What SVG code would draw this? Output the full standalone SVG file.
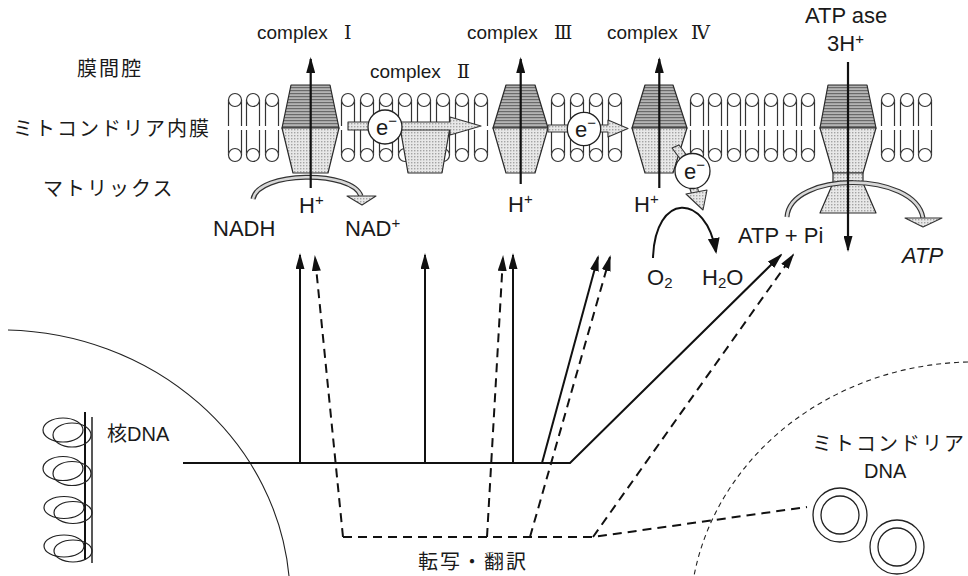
<svg xmlns="http://www.w3.org/2000/svg" width="968" height="576" viewBox="0 0 968 576">
<style>
text { font-family: "Liberation Sans", "Noto Sans CJK JP", sans-serif; fill: #1a1a1a; }
.jp { font-size: 20px; letter-spacing: 2px; }
.lbl { font-size: 19px; }
.num { font-family: "DejaVu Serif", "Noto Sans CJK JP", serif; font-size: 19px; }
.big { font-size: 22px; }
.lip line { stroke: #333; stroke-width: 1.2; }
.lip circle { fill: #fff; stroke: #333; stroke-width: 1.2; }
.top { fill: url(#pDark); stroke: #2a2a2a; stroke-width: 1.2; stroke-linejoin: round; }
.bot { fill: url(#pLight); stroke: #2a2a2a; stroke-width: 1.2; stroke-linejoin: round; }
.axis { stroke: #111; stroke-width: 2.2; fill: none; }
.sol { stroke: #111; stroke-width: 2; fill: none; }
.dash { stroke: #111; stroke-width: 2; fill: none; stroke-dasharray: 9 6; }
.thin { stroke: #222; stroke-width: 1.1; fill: none; }
.thindash { stroke: #222; stroke-width: 1.1; fill: none; stroke-dasharray: 5 4; }
.grey { fill: url(#pLight); stroke: #333; stroke-width: 1.1; stroke-linejoin: round; }
.bandOut { stroke: #333; stroke-width: 5; fill: none; }
.bandIn { stroke: #d8d8d8; stroke-width: 2.6; fill: none; }
.ecirc { fill: #fff; stroke: #222; stroke-width: 1.3; }
</style>
<defs>
  <pattern id="pDark" width="4" height="3" patternUnits="userSpaceOnUse">
    <rect width="4" height="3" fill="#b4b4b4"/>
    <rect width="4" height="1.2" fill="#6a6a6a"/>
  </pattern>
  <pattern id="pLight" width="3" height="3" patternUnits="userSpaceOnUse">
    <rect width="3" height="3" fill="#e8e8e8"/>
    <rect width="1.4" height="1.4" fill="#a4a4a4"/>
  </pattern>
  <marker id="ah" viewBox="0 0 16 9" markerWidth="16" markerHeight="9" refX="14" refY="4.5" orient="auto" markerUnits="userSpaceOnUse">
    <path d="M0,0 L16,4.5 L0,9 z" fill="#111"/>
  </marker>
  <marker id="ahBig" viewBox="0 0 16 12" markerWidth="16" markerHeight="12" refX="14" refY="6" orient="auto" markerUnits="userSpaceOnUse">
    <path d="M0,0 L16,6 L0,12 z" fill="#111"/>
  </marker>
  <!-- one phospholipid pair: head up (outer leaflet) and head down (inner leaflet) -->
  <g id="lipid" class="lip">
    <line x1="-6.5" y1="100" x2="-6.5" y2="126"/>
    <line x1="6.5" y1="100" x2="6.5" y2="126"/>
    <line x1="-6.5" y1="130" x2="-6.5" y2="155"/>
    <line x1="6.5" y1="130" x2="6.5" y2="155"/>
    <circle cx="0" cy="100" r="6.5"/>
    <circle cx="0" cy="155" r="6.5"/>
  </g>
</defs>

<rect width="968" height="576" fill="#fff"/>

<!-- compartment labels -->
<g id="labels-left">
  <text class="jp" x="77" y="76">膜間腔</text>
  <text class="jp" x="13" y="136">ミトコンドリア内膜</text>
  <text class="jp" x="43" y="196">マトリックス</text>
</g>

<!-- inner membrane bilayer -->
<g id="membrane">
  <use href="#lipid" x="235"/><use href="#lipid" x="253"/><use href="#lipid" x="272"/>
  <use href="#lipid" x="348"/><use href="#lipid" x="367"/><use href="#lipid" x="386"/>
  <use href="#lipid" x="405"/><use href="#lipid" x="424"/><use href="#lipid" x="443"/>
  <use href="#lipid" x="462"/><use href="#lipid" x="481"/>
  <use href="#lipid" x="558"/><use href="#lipid" x="577"/><use href="#lipid" x="596"/><use href="#lipid" x="615"/>
  <use href="#lipid" x="697"/><use href="#lipid" x="715"/><use href="#lipid" x="734"/>
  <use href="#lipid" x="752"/><use href="#lipid" x="771"/><use href="#lipid" x="790"/><use href="#lipid" x="808"/>
  <use href="#lipid" x="888"/><use href="#lipid" x="907"/><use href="#lipid" x="925"/>
</g>

<!-- complex I -->
<g id="complex1">
  <polygon class="top" points="291,85 330,85 339,128 282,128"/>
  <polygon class="bot" points="282,128 339,128 328,173 293,173"/>
  <path class="bandOut" d="M253,199 C258,171 352,170 361,196"/>
  <path class="bandIn" d="M253,199 C258,171 352,170 361,196"/>
  <polygon class="grey" points="347,196 376,196 362,205"/>
  <line class="axis" x1="310.7" y1="188" x2="310.7" y2="59" marker-end="url(#ah)"/>
  <text class="lbl" x="257" y="39">complex<tspan class="num" x="344">Ⅰ</tspan></text>
  <text class="big" x="299" y="213">H<tspan font-size="15" dy="-8">+</tspan></text>
  <text class="big" x="213" y="236">NADH</text>
  <text class="big" x="345" y="236">NAD<tspan font-size="15" dy="-8">+</tspan></text>
</g>

<!-- complex II -->
<g id="complex2">
  <polygon class="bot" points="400,127 450,127 442,173 408,173"/>
  <text class="lbl" x="370" y="78">complex<tspan class="num" x="457">Ⅱ</tspan></text>
</g>

<!-- electron transfer I/II -> III -->
<g id="e1">
  <polygon class="grey" points="348,122 450,122 450,117 481,126 450,135 450,130 348,130"/>
  <circle class="ecirc" cx="385" cy="127" r="17"/>
  <text class="big" x="376" y="135">e<tspan font-size="15" dy="-9">−</tspan></text>
</g>

<!-- complex III -->
<g id="complex3">
  <polygon class="top" points="506,85 535,85 548,128 493,128"/>
  <polygon class="bot" points="493,128 548,128 535,173 506,173"/>
  <line class="axis" x1="520.7" y1="184" x2="520.7" y2="59" marker-end="url(#ah)"/>
  <text class="lbl" x="467" y="39">complex<tspan class="num" x="554">Ⅲ</tspan></text>
  <text class="big" x="508" y="212">H<tspan font-size="15" dy="-8">+</tspan></text>
</g>

<!-- electron transfer III -> IV -->
<g id="e2">
  <polygon class="grey" points="548,125 608,125 608,120 628,128.5 608,137 608,132 548,132"/>
  <circle class="ecirc" cx="584" cy="129" r="16.7"/>
  <text class="big" x="575" y="137">e<tspan font-size="15" dy="-9">−</tspan></text>
</g>

<!-- complex IV and O2 reduction -->
<g id="complex4">
  <polygon class="top" points="645,85 673,85 687,128 632,128"/>
  <polygon class="bot" points="632,128 687,128 673,173 645,173"/>
  <polygon class="grey" points="672,148 679,145 688,157 681,160"/>
  <polygon class="grey" points="689,186 697,185 699,194 692,195"/>
  <polygon class="grey" points="686,194 707,190 703,210"/>
  <circle class="ecirc" cx="692.5" cy="171" r="17.5"/>
  <text class="big" x="684" y="179">e<tspan font-size="15" dy="-9">−</tspan></text>
  <line class="axis" x1="659.3" y1="188" x2="659.3" y2="59" marker-end="url(#ah)"/>
  <path class="sol" d="M653,258 C655,192 706,192 716,252" marker-end="url(#ahBig)"/>
  <text class="lbl" x="607" y="39">complex<tspan class="num" x="691">Ⅳ</tspan></text>
  <text class="big" x="634" y="212">H<tspan font-size="15" dy="-8">+</tspan></text>
  <text class="big" x="647" y="285">O<tspan font-size="15" dy="3">2</tspan></text>
  <text class="big" x="702" y="285">H<tspan font-size="15" dy="3">2</tspan><tspan dy="-3">O</tspan></text>
</g>

<!-- ATP synthase -->
<g id="atpase">
  <polygon class="top" points="828,85 867,85 876,128 820,128"/>
  <polygon class="bot" points="820,128 876,128 863,173 833,173"/>
  <rect class="bot" x="833" y="173" width="30" height="10"/>
  <polygon class="bot" points="833,183 863,183 876,213 820,213"/>
  <path class="bandOut" d="M787,217 C790,171 915,171 923,218"/>
  <path class="bandIn" d="M787,217 C790,171 915,171 923,218"/>
  <polygon class="grey" points="905,218 942,218 923,227"/>
  <line class="axis" x1="848" y1="62" x2="848" y2="250" marker-end="url(#ah)"/>
  <text class="big" x="805" y="23" font-size="21">ATP ase</text>
  <text class="big" x="827" y="51" font-size="21">3H<tspan font-size="15" dy="-7">+</tspan></text>
  <text class="big" x="738" y="243">ATP + Pi</text>
  <text class="big" x="902" y="263" font-style="italic">ATP</text>
</g>

<!-- nucleus with chromosomal DNA -->
<g id="nucleus">
  <path class="thin" d="M8,330 A290,270 0 0 1 289,576"/>
  <line x1="85" y1="412" x2="85" y2="560" stroke="#111" stroke-width="2"/>
  <line x1="92" y1="417" x2="92" y2="563" stroke="#111" stroke-width="1.4"/>
  <g fill="none" stroke="#222" stroke-width="1.2">
    <ellipse cx="63" cy="430" rx="20" ry="12"/><ellipse cx="72" cy="435" rx="19" ry="12"/>
    <ellipse cx="63" cy="468.5" rx="20" ry="12"/><ellipse cx="72" cy="473.5" rx="19" ry="12"/>
    <ellipse cx="64" cy="507.5" rx="20" ry="11"/><ellipse cx="73" cy="512.5" rx="19" ry="11"/>
    <ellipse cx="64" cy="546" rx="20" ry="11"/><ellipse cx="73" cy="551" rx="19" ry="11"/>
  </g>
  <text x="107" y="441" font-size="20">核DNA</text>
</g>

<!-- mitochondrial matrix with mtDNA -->
<g id="mtdna">
  <path class="thindash" d="M968,362 A285,258 0 0 0 694,576"/>
  <g fill="none" stroke="#222" stroke-width="1.3">
    <circle cx="840" cy="515" r="27"/><circle cx="840" cy="515" r="19"/>
    <circle cx="897" cy="547" r="27"/><circle cx="897" cy="547" r="19"/>
  </g>
  <text class="jp" x="812" y="451">ミトコンドリア</text>
  <text x="864" y="478" font-size="20">DNA</text>
</g>

<!-- gene expression paths: solid = nuclear, dashed = mitochondrial -->
<g id="connectors">
  <path class="sol" d="M183,463 H570 L781,255" marker-end="url(#ah)"/>
  <path class="sol" d="M300,463 V255" marker-end="url(#ah)"/>
  <path class="sol" d="M425,463 V255" marker-end="url(#ah)"/>
  <path class="sol" d="M513,463 V255" marker-end="url(#ah)"/>
  <path class="sol" d="M542,463 L598,257" marker-end="url(#ah)"/>
  <path class="dash" d="M343,537 H593 L807,507"/>
  <path class="dash" d="M343,537 L315,257" marker-end="url(#ah)"/>
  <path class="dash" d="M487,537 L503,257" marker-end="url(#ah)"/>
  <path class="dash" d="M530,537 L610,257" marker-end="url(#ah)"/>
  <path class="dash" d="M593,537 L793,255" marker-end="url(#ah)"/>
</g>

<text class="jp" x="418" y="569">転写・翻訳</text>
</svg>
